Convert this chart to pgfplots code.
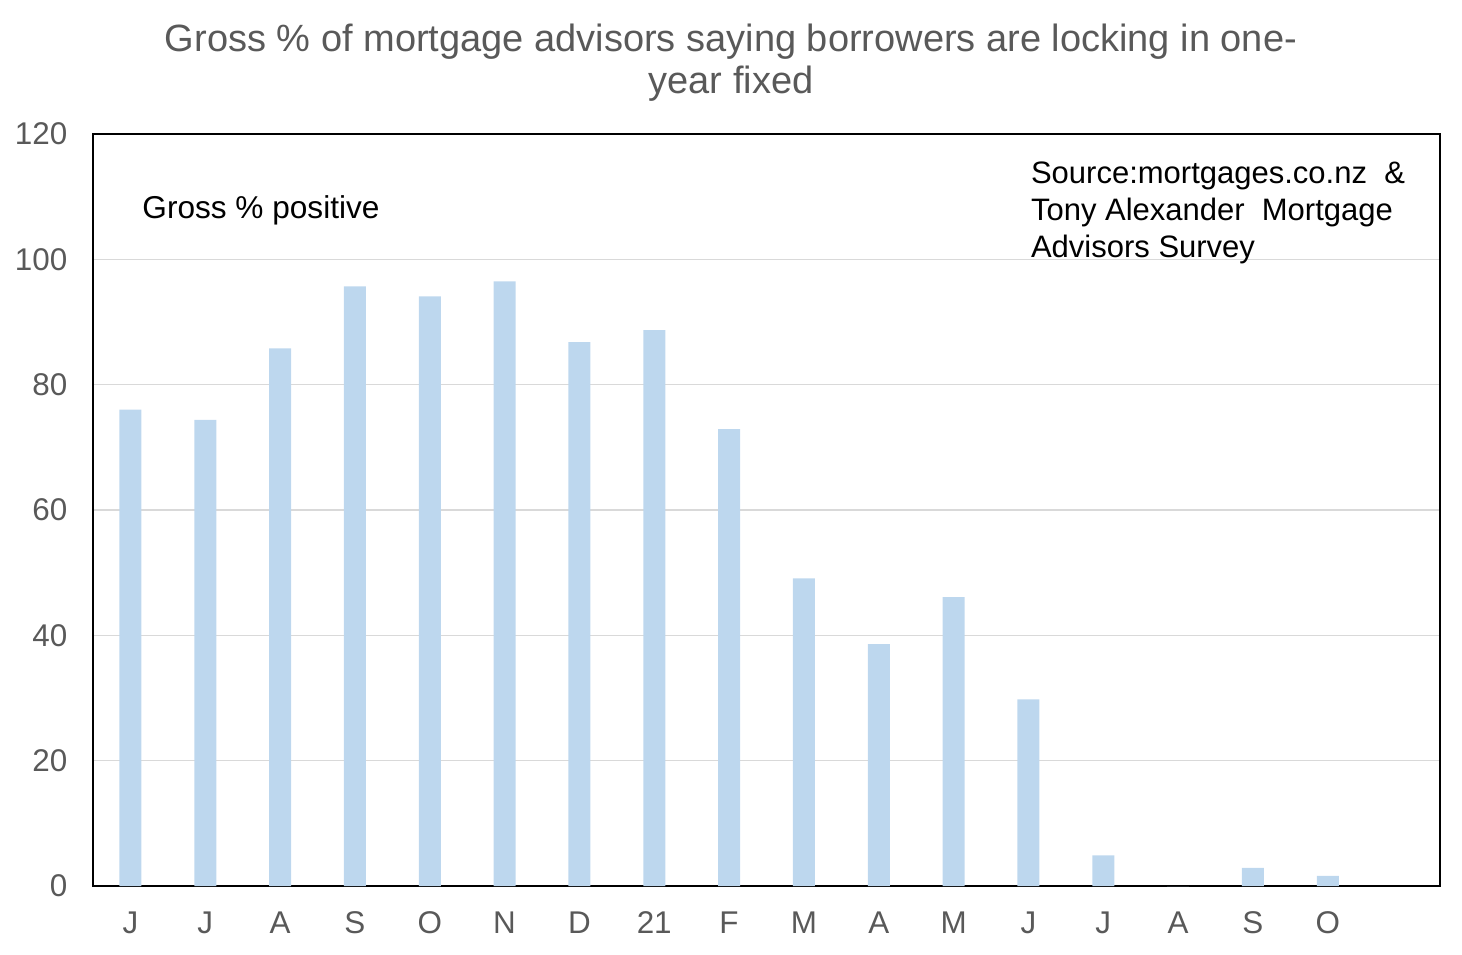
\documentclass[border=0pt]{standalone}
\usepackage{pgfplots}
\pgfplotsset{compat=1.18}
\usepackage{fontspec}
\setmainfont{Liberation Sans}
\definecolor{barblue}{RGB}{189,215,238}
\definecolor{tickgray}{RGB}{89,89,89}
\definecolor{gridgray}{RGB}{217,217,217}
\begin{document}
\begin{tikzpicture}
\begin{axis}[
  width=673.5pt, height=376pt, scale only axis,
  xmin=-0.5, xmax=17.5, ymin=0, ymax=120,
  ytick={0,20,...,120},
  xtick={0,...,16},
  xticklabels={J,J,A,S,O,N,D,21,F,M,A,M,J,J,A,S,O},
  major tick length=0pt,
  ymajorgrids, grid style={gridgray, line width=0.6pt},
  axis line style={black, line width=0.9pt},
  tick label style={font=\fontsize{15.7}{18}\selectfont, text=tickgray},
  /pgf/number format/assume math mode=true,
  yticklabel style={xshift=-9.3pt},
  xticklabel style={yshift=-9.2pt},
  title={Gross \% of mortgage advisors saying borrowers are locking in one-\\year fixed},
  title style={at={(0.5,1)}, anchor=south, inner sep=0pt, xshift=-17.75pt, yshift=10pt, align=center,
    font=\fontsize{19}{21}\selectfont, text=tickgray},
  clip=false,
]
\addplot[ybar, bar width=11pt, fill=barblue, draw=none] coordinates {
(0,76) (1,74.4) (2,85.8) (3,95.7) (4,94.1) (5,96.5) (6,86.8) (7,88.7) (8,72.9)
(9,49.1) (10,38.6) (11,46.1) (12,29.8) (13,4.9) (14,0) (15,2.9) (16,1.6)
};
\node[anchor=west, inner sep=0pt, font=\fontsize{15.8}{18}\selectfont] at (axis cs:0.155,107.8) {Gross \% positive};
\node[anchor=north west, align=left, inner sep=0pt, font=\fontsize{15.5}{18.5}\selectfont] at (axis cs:12.03,115.6)
  {Source:mortgages.co.nz\ \ \&\\Tony Alexander\ \ Mortgage\\Advisors Survey};
\coordinate (ll) at (rel axis cs:0,0);
\end{axis}
\pgfresetboundingbox
\path ([xshift=-46.5pt,yshift=-34pt]ll) rectangle ([xshift=684.5pt,yshift=443pt]ll);
\end{tikzpicture}
\end{document}
